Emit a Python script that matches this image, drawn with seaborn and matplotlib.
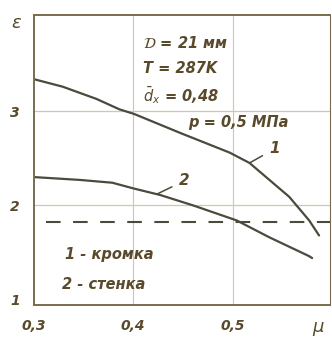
import numpy as np
import pandas as pd
import seaborn as sns
import matplotlib.pyplot as plt

# values
mu_1 = [0.30, 0.329, 0.363, 0.386, 0.401, 0.447, 0.497, 0.517, 0.537, 0.557, 0.577, 0.587]
eps_1 = [3.34, 3.26, 3.13, 3.02, 2.97, 2.77, 2.56, 2.45, 2.27, 2.09, 1.84, 1.68]
mu_2 = [0.30, 0.346, 0.379, 0.40, 0.427, 0.46, 0.504, 0.537, 0.577, 0.58]
eps_2 = [2.30, 2.27, 2.24, 2.18, 2.11, 2.00, 1.84, 1.66, 1.46, 1.44]
eps_ref = 1.82
x_ticks = [0.3, 0.4, 0.5]
x_labels = ["0,3", "0,4", "0,5"]
y_ticks = [1, 2, 3]
params = ["$\\mathcal{D}$ = 21 мм", "T = 287K", "$\\bar{d}_x$ = 0,48"]
pressure = "p = 0,5 МПа"
legend_lines = ["1 - кромка", "2 - стенка"]

line_c = "#4b4a3c"
text_c = "#5a4a2c"
spine_c = "#7b6a4e"
grid_c = "#d4c7a4"

df = pd.concat([
    pd.DataFrame({"mu": mu_1, "eps": eps_1, "curve": "1"}),
    pd.DataFrame({"mu": mu_2, "eps": eps_2, "curve": "2"}),
])

sns.set_style("white")
plt.rcParams["font.family"] = ["DejaVu Sans"]
plt.rcParams["mathtext.fontset"] = "dejavusans"

fig = plt.figure(figsize=(3.32, 3.44), dpi=100)
ax = fig.add_axes([0.102, 0.113, 0.892, 0.843])

sns.lineplot(data=df, x="mu", y="eps", hue="curve", palette=[line_c, line_c],
             linewidth=1.6, legend=False, ax=ax)
ax.axhline(eps_ref, xmin=0.04, xmax=1, color=line_c, lw=1.5, dashes=(7, 6))

ax.set_xlim(0.3, 0.598)
ax.set_ylim(0.94, 4.02)
ax.set_xticks(x_ticks)
ax.set_xticklabels(x_labels)
ax.set_yticks(y_ticks)
ax.set_yticklabels([str(v) for v in y_ticks])
ax.tick_params(length=0, labelsize=10, colors=text_c, pad=10)
for lab in ax.get_xticklabels() + ax.get_yticklabels():
    lab.set_fontstyle("italic")
    lab.set_fontweight("bold")
ax.set_xlabel("")
ax.set_ylabel("")

ax.grid(False)
for v in [0.4, 0.5]:
    ax.axvline(v, color=grid_c, lw=0.8, zorder=0)
for v in [2, 3]:
    ax.axhline(v, color=grid_c, lw=0.9, zorder=0)
for s in ax.spines.values():
    s.set_color(spine_c)
    s.set_linewidth(1.4)
ax.spines["right"].set_linewidth(0.8)

tkw = dict(color=text_c, fontsize=10.5, fontstyle="italic", fontweight="bold",
           transform=ax.transAxes, va="center")
fig.text(0.035, 0.92, "ε", color=text_c, fontsize=13, fontstyle="italic")
fig.text(0.94, 0.035, "μ", color=text_c, fontsize=13, fontstyle="italic")

y0 = 0.905
for i, t in enumerate(params):
    ax.text(0.37, y0 - i * 0.09, t, **tkw)
ax.text(0.52, 0.63, pressure, **tkw)
ax.text(0.105, 0.175, legend_lines[0], **tkw)
ax.text(0.095, 0.07, legend_lines[1], **tkw)

# curve number labels with short leader lines
ax.annotate("1", xy=(0.517, 2.45), xytext=(0.537, 2.6), color=text_c,
            fontsize=11, fontstyle="italic", fontweight="bold", va="center",
            arrowprops=dict(arrowstyle="-", color=line_c, lw=1.1, shrinkB=0, shrinkA=3))
ax.annotate("2", xy=(0.424, 2.12), xytext=(0.446, 2.26), color=text_c,
            fontsize=11, fontstyle="italic", fontweight="bold", va="center",
            arrowprops=dict(arrowstyle="-", color=line_c, lw=1.1, shrinkB=0, shrinkA=3))

fig.savefig("out.png", dpi=100, facecolor="white")
